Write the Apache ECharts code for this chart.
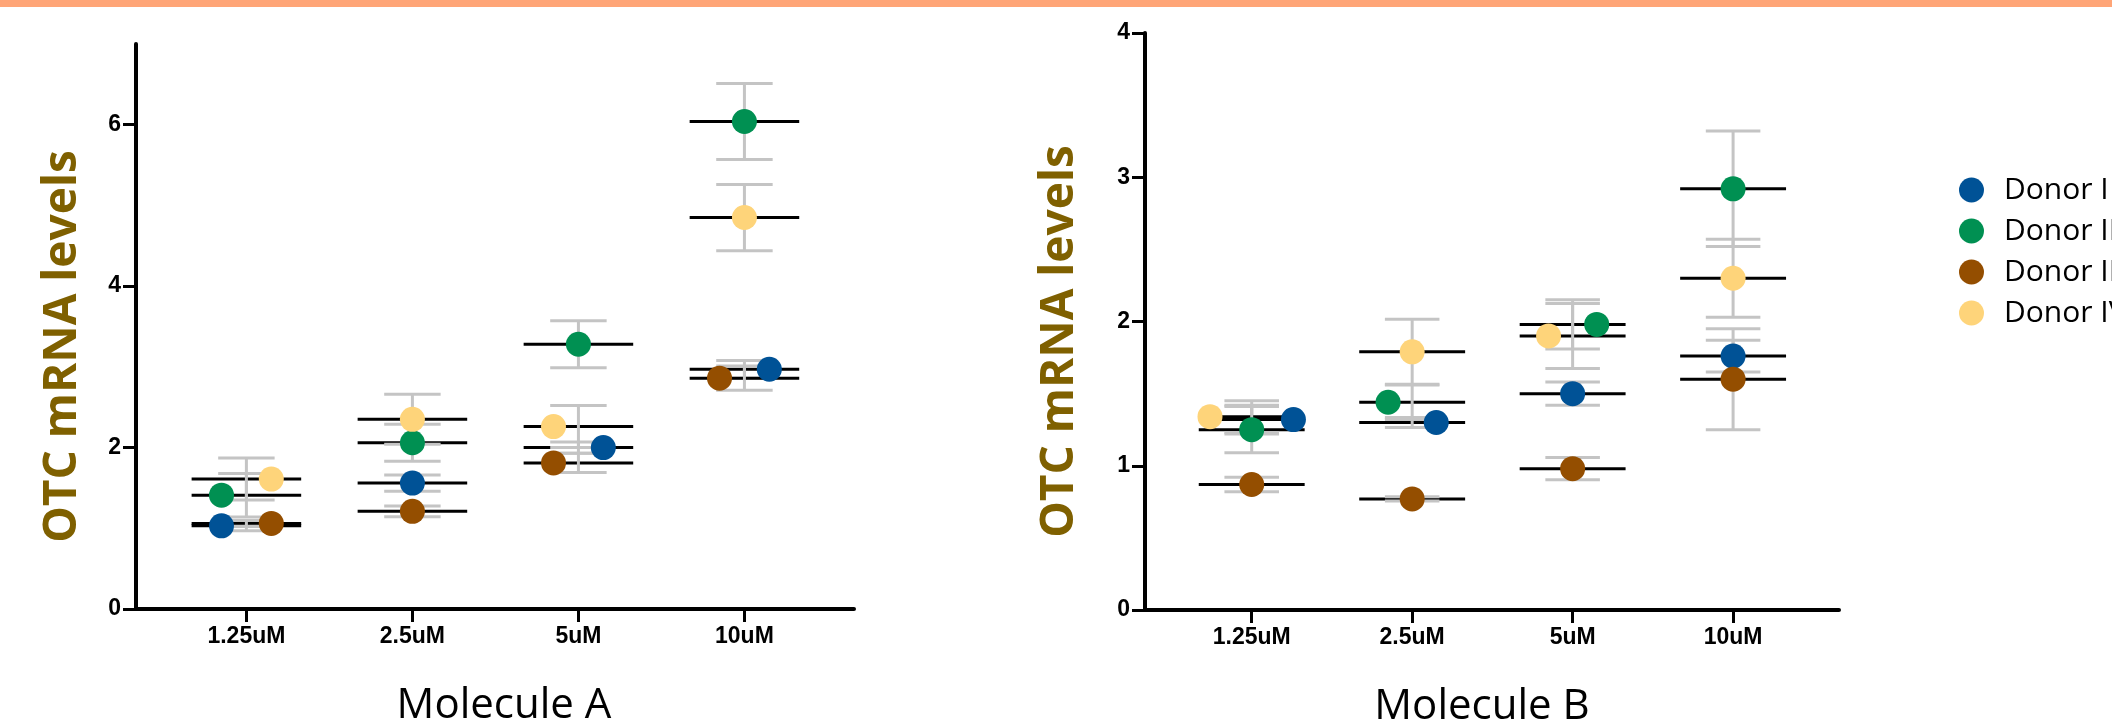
<!DOCTYPE html>
<html>
<head>
<meta charset="utf-8">
<script src="https://cdn.jsdelivr.net/npm/echarts@6/dist/echarts.min.js"></script>
<style>
  html, body { margin: 0; padding: 0; background: #fff; }
  #main { width: 2112px; height: 723px; }
</style>
</head>
<body>
<div id="main"></div>
<script>
const categories = ['1.25uM', '2.5uM', '5uM', '10uM'];
const donors = ['Donor I', 'Donor II', 'Donor III', 'Donor IV'];
const colors = ['#005296', '#009052', '#944e00', '#fed47a'];

const yTicksA = [0, 2, 4, 6];
const yTicksB = [0, 1, 2, 3, 4];

// Molecule A: one row per donor, one value per concentration
const meansA = [
  [1.03, 1.56, 2.00, 2.97],
  [1.41, 2.06, 3.28, 6.04],
  [1.06, 1.21, 1.81, 2.86],
  [1.61, 2.35, 2.26, 4.85]
];
const sdA = [
  [0.06, 0.10, 0.07, 0.11],
  [0.27, 0.23, 0.29, 0.47],
  [0.035, 0.066, 0.12, 0.15],
  [0.26, 0.31, 0.26, 0.41]
];
const jitterA = [
  [-0.15, 0, 0.15, 0.15],
  [-0.15, 0, 0, 0],
  [0.15, 0, -0.15, -0.15],
  [0.15, 0, -0.15, 0]
];

// Molecule B
const meansB = [
  [1.32, 1.30, 1.50, 1.76],
  [1.25, 1.44, 1.98, 2.92],
  [0.87, 0.77, 0.98, 1.60],
  [1.34, 1.79, 1.90, 2.30]
];
const sdB = [
  [0.10, 0.035, 0.08, 0.11],
  [0.16, 0.12, 0.17, 0.40],
  [0.05, 0.015, 0.077, 0.35],
  [0.11, 0.225, 0.225, 0.27]
];
const jitterB = [
  [0.26, 0.15, 0, 0],
  [0, -0.15, 0.15, 0],
  [0, 0, 0, 0],
  [-0.26, 0, -0.15, 0]
];

const chart = echarts.init(document.getElementById('main'));

const gray = '#c4c4c4';

function renderBars(params, api) {
  const x = api.value(0), m = api.value(1), s = api.value(2);
  const mL = api.coord([x - 0.33, m]), mR = api.coord([x + 0.33, m]);
  const top = api.coord([x, m + s]), bot = api.coord([x, m - s]);
  const tL = api.coord([x - 0.17, m + s]), tR = api.coord([x + 0.17, m + s]);
  const bL = api.coord([x - 0.17, m - s]), bR = api.coord([x + 0.17, m - s]);
  const ln = (a, b, c) => ({
    type: 'line',
    shape: { x1: a[0], y1: a[1], x2: b[0], y2: b[1] },
    style: { stroke: c, lineWidth: 3 }
  });
  return {
    type: 'group',
    children: [ln(mL, mR, '#000'), ln(top, bot, gray), ln(tL, tR, gray), ln(bL, bR, gray)]
  };
}

function buildSeries(idx, means, sds, jitter) {
  const out = [];
  donors.forEach(function (name, d) {
    out.push({
      type: 'custom',
      xAxisIndex: idx,
      yAxisIndex: idx,
      silent: true,
      renderItem: renderBars,
      encode: { x: 0, y: 1 },
      data: categories.map((c, i) => [i + 1, means[d][i], sds[d][i]])
    });
    out.push({
      type: 'scatter',
      name: name,
      xAxisIndex: idx,
      yAxisIndex: idx,
      symbolSize: 25,
      silent: true,
      itemStyle: { color: colors[d], opacity: 1 },
      data: categories.map((c, i) => [i + 1 + jitter[d][i], means[d][i]])
    });
  });
  return out;
}

function xAxisOf(idx, title, pad) {
  return {
    type: 'value',
    gridIndex: idx,
    min: 0.335,
    max: 4.66,
    name: title,
    nameLocation: 'middle',
    nameGap: 76,
    nameTextStyle: { fontFamily: 'Open Sans', fontSize: 42, color: '#000', padding: pad },
    splitLine: { show: false },
    axisLine: { onZero: false, lineStyle: { color: '#000', width: 4 } },
    axisTick: { customValues: [1, 2, 3, 4], length: 13, lineStyle: { color: '#000', width: 3 } },
    axisLabel: {
      customValues: [1, 2, 3, 4],
      formatter: v => categories[Math.round(v) - 1],
      fontFamily: 'Liberation Sans',
      fontWeight: 'bold',
      fontSize: 23,
      color: '#000',
      margin: 16
    }
  };
}

function yAxisOf(idx, max, ticks, gap) {
  return {
    type: 'value',
    gridIndex: idx,
    min: 0,
    max: max,
    name: 'OTC mRNA levels',
    nameLocation: 'middle',
    nameGap: gap,
    nameTextStyle: {
      fontFamily: 'Open Sans', fontWeight: 'bold', fontSize: 46, color: '#7f6000',
      padding: [0, 40, 0, 0]
    },
    splitLine: { show: false },
    axisLine: { show: true, onZero: false, lineStyle: { color: '#000', width: 4 } },
    axisTick: { show: true, customValues: ticks, length: 13, lineStyle: { color: '#000', width: 3 } },
    axisLabel: {
      customValues: ticks,
      fontFamily: 'Liberation Sans',
      fontWeight: 'bold',
      fontSize: 23,
      color: '#000',
      margin: 15
    }
  };
}

const option = {
  backgroundColor: '#ffffff',
  animation: false,
  graphic: [{
    type: 'rect',
    left: 0,
    top: 0,
    shape: { width: 2112, height: 7 },
    style: { fill: '#ffa577' }
  }],
  legend: {
    data: donors.map(n => ({ name: n, icon: 'circle' })),
    orient: 'vertical',
    left: 1954,
    top: 170,
    itemWidth: 25,
    itemHeight: 25,
    itemGap: 11,
    textStyle: { fontFamily: 'Open Sans', fontSize: 30, color: '#000', lineHeight: 30, padding: [0, 0, 0, 15] }
  },
  grid: [
    { left: 136, top: 44, width: 718, height: 565, containLabel: false, outerBoundsMode: 'none' },
    { left: 1145, top: 33, width: 694, height: 577, containLabel: false, outerBoundsMode: 'none' }
  ],
  xAxis: [xAxisOf(0, 'Molecule A', [0, 0, 0, 18]), xAxisOf(1, 'Molecule B', [0, 20, 0, 0])],
  yAxis: [yAxisOf(0, 7, yTicksA, 50), yAxisOf(1, 4, yTicksB, 62)],
  series: buildSeries(0, meansA, sdA, jitterA).concat(buildSeries(1, meansB, sdB, jitterB))
};

chart.setOption(option);
</script>
</body>
</html>
